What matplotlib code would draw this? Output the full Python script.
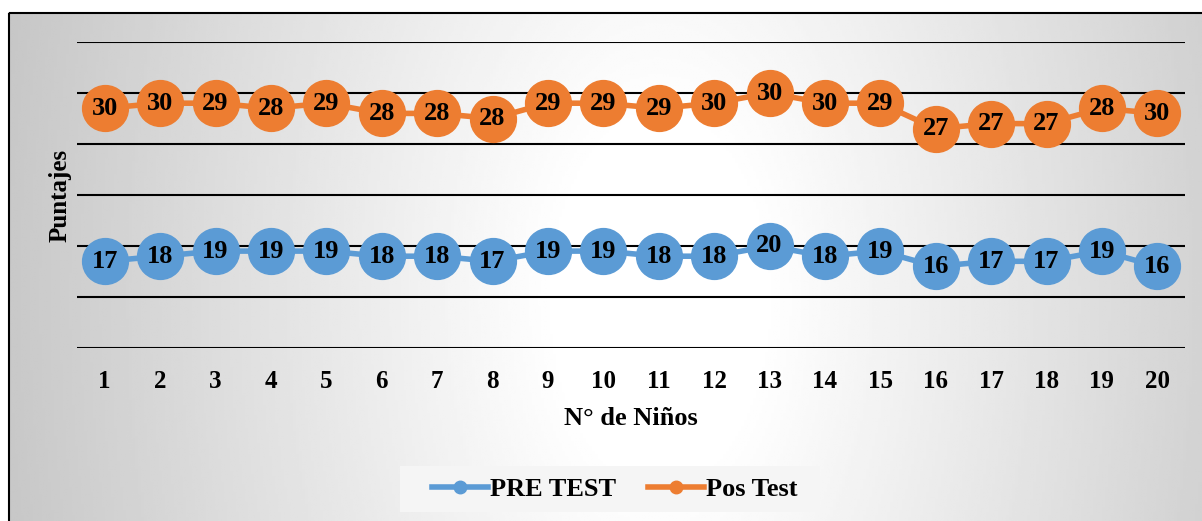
import numpy as np
import matplotlib.pyplot as plt
from matplotlib.lines import Line2D
from matplotlib.patches import Rectangle

ninos = [str(i) for i in range(1, 21)]
pre_test = [17, 18, 19, 19, 19, 18, 18, 17, 19, 19, 18, 18, 20, 18, 19, 16, 17, 17, 19, 16]
pos_test = [30, 30, 29, 28, 29, 28, 28, 28, 29, 29, 29, 30, 30, 30, 29, 27, 27, 27, 28, 30]

BLUE = '#5B9BD5'
ORANGE = '#ED7D31'
plt.rcParams['font.family'] = ['Liberation Serif', 'DejaVu Serif']

W, H = 1202, 521
fig = plt.figure(figsize=(W / 100, H / 100), dpi=100)

# fondo con degradado radial dentro del marco
bg = fig.add_axes([0, 0, 1, 1])
bg.set_xlim(0, W)
bg.set_ylim(H, 0)
bg.axis('off')
xx, yy = np.meshgrid(np.linspace(8, W, 400), np.linspace(12, H, 200))
r = np.sqrt(((xx - 660) / 640) ** 2 + ((yy - 300) / 1100) ** 2)
shade = np.clip(1.04 - 0.25 * r, 0.77, 1.0)
bg.imshow(shade, cmap='gray', vmin=0, vmax=1, extent=(8, W, H, 12), aspect='auto')
bg.add_patch(Rectangle((8.5, 12.5), W, H, fill=False, ec='black', lw=1.5))
# caja clara de la leyenda
bg.add_patch(Rectangle((400, 466), 420, 46, fc='#f5f5f5', ec='none'))

ax = fig.add_axes([77 / W, 1 - 348 / H, (1185 - 77) / W, (348 - 42) / H])
ax.patch.set_alpha(0)
x = np.arange(len(ninos))
total = np.array(pre_test) + np.array(pos_test)  # líneas apiladas

for g in range(0, 61, 10):
    ax.axhline(g, color='black', lw=1.5, zorder=1)

ax.plot(x, pre_test, color=BLUE, lw=4, marker='o', ms=33, zorder=3)
ax.plot(x, total, color=ORANGE, lw=4, marker='o', ms=33, zorder=3)
for i in range(len(x)):
    ax.text(x[i], pre_test[i], str(pre_test[i]), ha='center', va='center',
            fontsize=19, fontweight='bold', zorder=4)
    ax.text(x[i], total[i], str(pos_test[i]), ha='center', va='center',
            fontsize=19, fontweight='bold', zorder=4)

ax.set_xlim(-0.5, len(x) - 0.5)
ax.set_ylim(0, 60)
ax.set_xticks(x)
ax.set_xticklabels(ninos, fontsize=18, fontweight='bold')
ax.set_yticks([])
ax.tick_params(axis='x', length=0, pad=16)
for s in ax.spines.values():
    s.set_visible(False)
ax.set_xlabel('N° de Niños', fontsize=19, fontweight='bold', labelpad=10)
fig.text(60 / W, 1 - 195 / H, 'Puntajes', rotation=90, ha='center', va='center',
         fontsize=18, fontweight='bold')

handles = [Line2D([], [], color=BLUE, lw=4, marker='o', ms=9),
           Line2D([], [], color=ORANGE, lw=4, marker='o', ms=9)]
fig.legend(handles, ['PRE TEST', 'Pos Test'], loc='center',
           bbox_to_anchor=(615 / W, 1 - 489 / H), ncol=2, frameon=False,
           prop={'size': 19, 'weight': 'bold'}, handlelength=2.1,
           handletextpad=0.1, columnspacing=1.2, borderpad=0, borderaxespad=0)

fig.savefig('out.png', dpi=100)
